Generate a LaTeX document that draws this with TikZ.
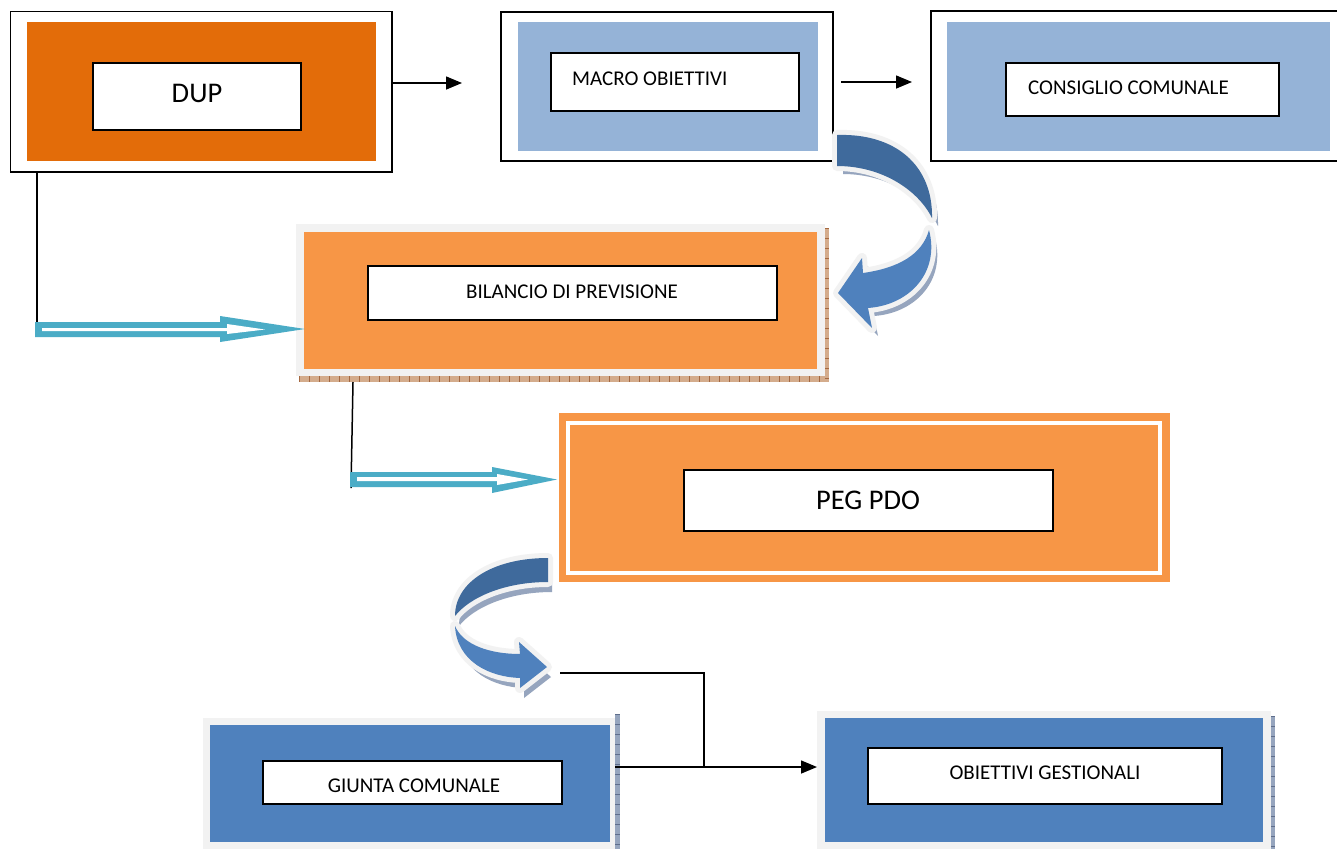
\documentclass[tikz,border=0pt]{standalone}
\usepackage{fontspec}
\setmainfont{Carlito}
\usetikzlibrary{arrows.meta,fit}
\definecolor{dupor}{HTML}{E36C09}
\definecolor{ltblue}{HTML}{95B3D7}
\definecolor{orng}{HTML}{F79646}
\definecolor{mdblue}{HTML}{4F81BD}
\definecolor{dkblue}{HTML}{3F6A9C}
\definecolor{bord}{HTML}{F2F2F2}
\definecolor{tealc}{HTML}{4BACC6}
\definecolor{hatchO}{RGB}{212,172,140}
\definecolor{hatchOd}{RGB}{165,105,65}
\definecolor{hatchB}{RGB}{150,165,190}
\definecolor{hatchBd}{RGB}{95,110,140}
\newcommand\ArrOneDark{(837,135) .. controls (895,133) and (933,165) .. (932,218) .. controls (918,190) and (882,166) .. (837,166) -- cycle}
\newcommand\ArrOneLight{(929,230) .. controls (940,272) and (910,305) .. (868,308) -- (872,328) -- (838,293) -- (862,258) -- (863,273) .. controls (898,268) and (922,255) .. (929,230) -- cycle}
\newcommand\ArrTwoDark{(548,558) .. controls (493,558) and (455,582) .. (455,616) .. controls (470,597) and (505,582) .. (548,582) -- cycle}
\newcommand\ArrTwoLight{(455,626) .. controls (457,662) and (490,677) .. (520,678) -- (520,688) -- (547,667) -- (519,642) -- (520,654) .. controls (490,654) and (463,645) .. (455,626) -- cycle}
\begin{document}
\begin{tikzpicture}[x=1pt,y=-1pt,
  rbox/.style={rectangle, inner sep=0pt, outer sep=0pt},
  blk/.style={rbox, draw=black, line width=1.5pt},
  whitebox/.style={blk, fill=white},
  bigtxt/.style={inner sep=0pt, font=\fontsize{28.5}{34}\selectfont},
  smalltxt/.style={inner sep=0pt, font=\fontsize{21}{25}\selectfont},
  conn/.style={draw=black, line width=1.5pt},
  arr/.style={conn, -{Triangle[length=16pt,width=13pt]}},
  ticksO/.style={hatchOd, dash pattern=on 1pt off 9pt},
  ticksB/.style={hatchBd, dash pattern=on 1pt off 9pt},
]
\useasboundingbox (0,0) rectangle (1337,849);
\fill[white] (0,0) rectangle (1337,849);

% DUP
\node[blk, fit={(10.5,11.5)(392,172)}] (dupO) {};
\node[rbox, fill=dupor, fit={(27,22)(376,161)}] (dupF) {};
\node[whitebox, fit={(93,63)(301,130)}] (dupW) {};
\node[bigtxt, anchor=base] (dupT) at (197,102) {DUP};

% MACRO OBIETTIVI
\node[blk, fit={(501,12)(833,161)}] (macO) {};
\node[rbox, fill=ltblue, fit={(518,22)(818,151)}] (macF) {};
\node[whitebox, fit={(551,53)(799,111)}] (macW) {};
\node[smalltxt, anchor=base west] (macT) at (572,85) {MACRO OBIETTIVI};

% CONSIGLIO COMUNALE
\node[blk, fit={(931,11)(1350,161)}] (conO) {};
\node[rbox, fill=ltblue, fit={(947,22)(1330,151)}] (conF) {};
\node[whitebox, fit={(1006,63)(1279,116)}] (conW) {};
\node[smalltxt, anchor=base west] (conT) at (1028,94) {CONSIGLIO COMUNALE};

% BILANCIO
\fill[hatchO] (825,228) rectangle (829,382);
\fill[hatchO] (299,376) rectangle (829,382);
\draw[ticksO, line width=6pt] (299,379) -- (829,379);
\draw[ticksO, line width=4pt] (827,228) -- (827,382);
\node[rbox, fill=bord, fit={(296,224)(825,376)}] (bilB) {};
\node[rbox, fill=orng, fit={(304,232)(817,369)}] (bilF) {};
\node[whitebox, fit={(368,266)(777,320)}] (bilW) {};
\node[smalltxt, anchor=base] (bilT) at (572,298) {BILANCIO DI PREVISIONE};

% PEG PDO
\node[rbox, fill=orng, fit={(559,413)(1170,582)}] (pegO) {};
\draw[white, line width=3.5pt] (568,423) rectangle (1160,573);
\node[whitebox, fit={(684,470)(1053,531)}] (pegW) {};
\node[bigtxt, anchor=base] (pegT) at (868,509) {PEG PDO};

% GIUNTA
\fill[hatchB] (615,714) rectangle (620,849);
\draw[ticksB, line width=5pt] (617.5,714) -- (617.5,849);
\node[rbox, fill=bord, fit={(203,718)(615,849)}] (giuB) {};
\node[rbox, fill=mdblue, fit={(210,725)(610,842)}] (giuF) {};
\node[whitebox, fit={(263,761)(562,804)}] (giuW) {};
\node[smalltxt, anchor=base] (giuT) at (414,792) {GIUNTA COMUNALE};

% OBIETTIVI GESTIONALI
\fill[hatchB] (1271,716) rectangle (1275,849);
\draw[ticksB, line width=4pt] (1273,716) -- (1273,849);
\node[rbox, fill=bord, fit={(817,711)(1271,849)}] (obiB) {};
\node[rbox, fill=mdblue, fit={(825,718)(1263,842)}] (obiF) {};
\node[whitebox, fit={(868,748)(1222,804)}] (obiW) {};
\node[smalltxt, anchor=base] (obiT) at (1045,779) {OBIETTIVI GESTIONALI};

% top connectors
\coordinate (a1e) at (462,83);
\draw[arr] (dupO.east |- a1e) -- (a1e);
\coordinate (a2s) at (841,82);
\coordinate (a2e) at (912,82);
\draw[arr] (a2s) -- (a2e);

% DUP -> BILANCIO
\coordinate (v1) at (37,324);
\draw[conn] (dupO.south -| v1) -- (v1);
\fill[tealc] (35,322) -- (220,322) -- (220,316) -- (305,329) -- (220,342) -- (220,337) -- (35,337) -- cycle;
\fill[white] (42,328) -- (227,328) -- (227,324) -- (265,329.5) -- (227,334) -- (227,331) -- (42,331) -- cycle;

% BILANCIO -> PEG
\coordinate (v2s) at (353,382);
\coordinate (v2) at (351,488);
\draw[conn] (v2s) -- (v2);
\fill[tealc] (350,472) -- (492,472) -- (492,467) -- (557,479.5) -- (492,493) -- (492,487) -- (350,487) -- cycle;
\fill[white] (357,477) -- (497,477) -- (497,474) -- (528,479.5) -- (497,485) -- (497,481) -- (357,481) -- cycle;

% bottom connectors
\coordinate (c2tip) at (560,673);
\coordinate (jn) at (704,767);
\draw[conn] (c2tip) -| (jn);
\draw[arr] (giuB.east |- jn) -- (obiB.west |- jn);

% curved arrow 1
\fill[hatchB, shift={(6,8)}] \ArrOneDark;
\fill[hatchB, shift={(6,8)}] \ArrOneLight;
\draw[bord, line width=10pt, line join=round] \ArrOneDark;
\draw[bord, line width=10pt, line join=round] \ArrOneLight;
\fill[dkblue] \ArrOneDark;
\fill[mdblue] \ArrOneLight;

% curved arrow 2
\fill[hatchB, shift={(4,10)}] \ArrTwoDark;
\fill[hatchB, shift={(4,10)}] \ArrTwoLight;
\draw[bord, line width=10pt, line join=round] \ArrTwoDark;
\draw[bord, line width=10pt, line join=round] \ArrTwoLight;
\fill[dkblue] \ArrTwoDark;
\fill[mdblue] \ArrTwoLight;
\end{tikzpicture}
\end{document}
